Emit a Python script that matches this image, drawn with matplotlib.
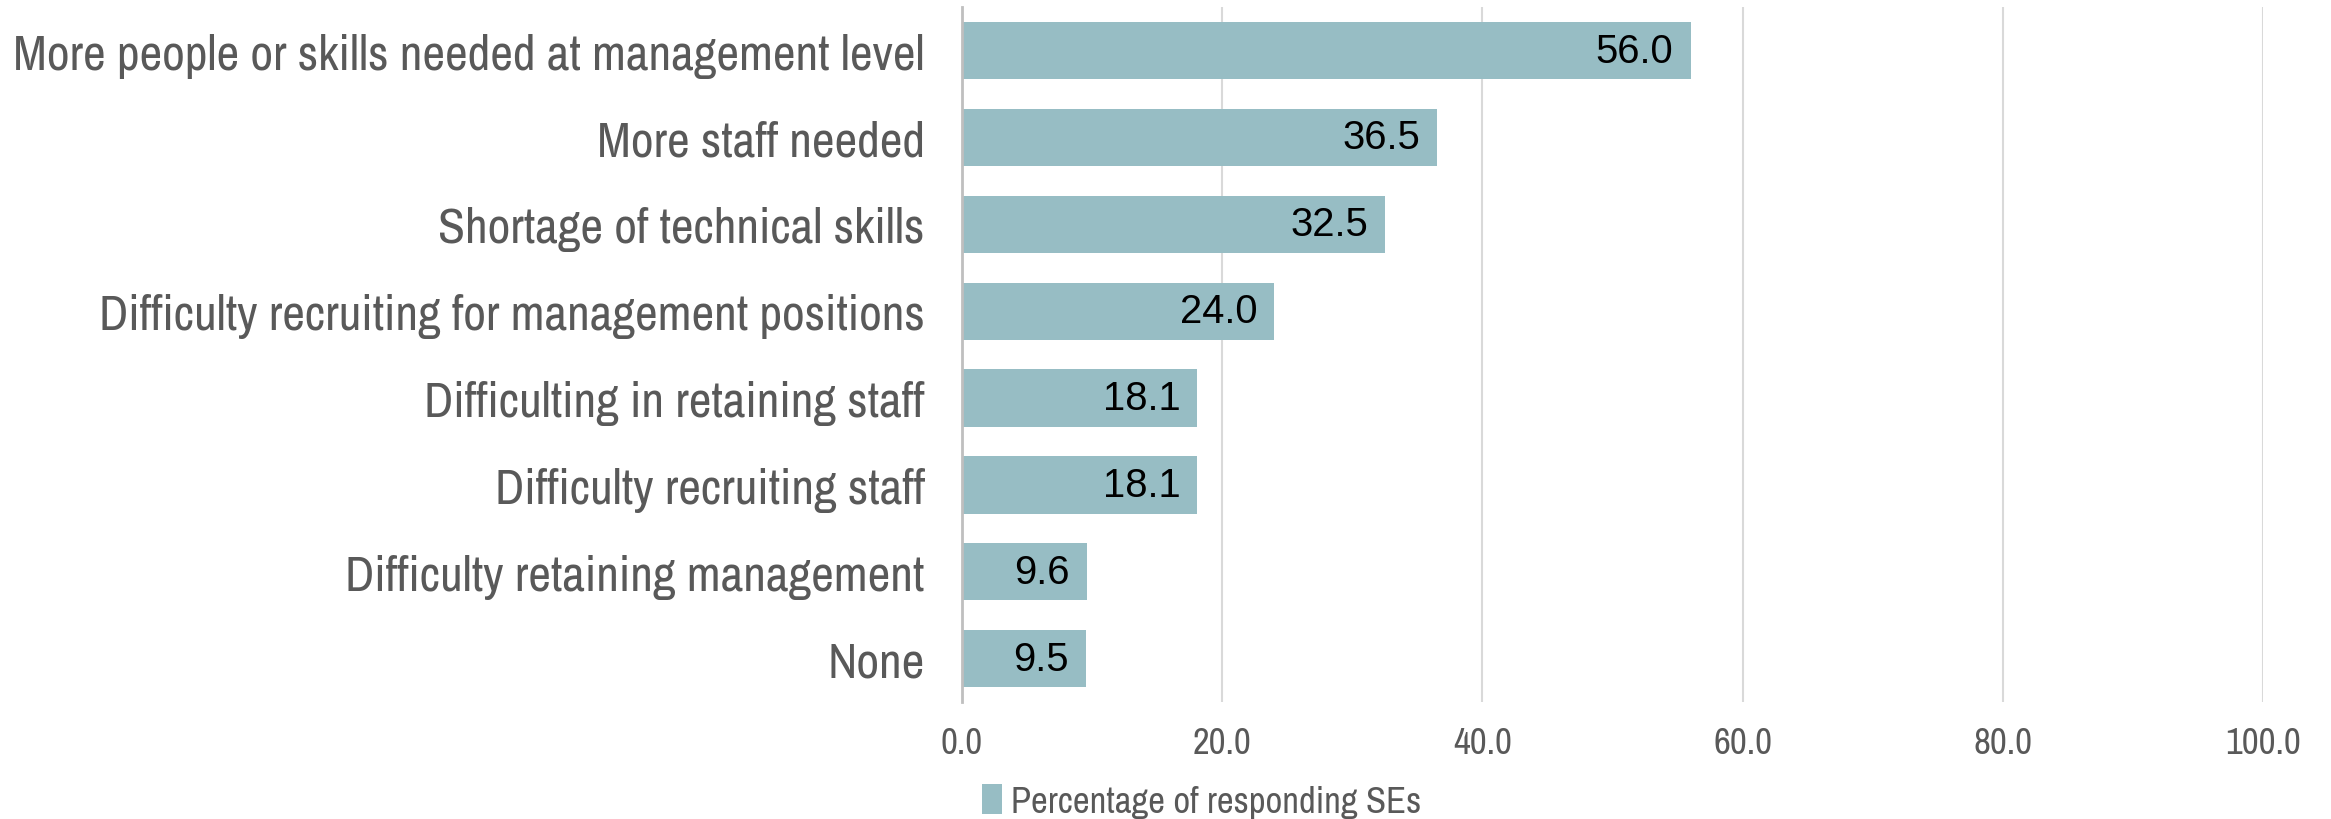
import matplotlib
matplotlib.use("Agg")
import matplotlib.pyplot as plt
from matplotlib.textpath import TextPath
from matplotlib.font_manager import FontProperties

categories = [
    "More people or skills needed at management level",
    "More staff needed",
    "Shortage of technical skills",
    "Difficulty recruiting for management positions",
    "Difficulting in retaining staff",
    "Difficulty recruiting staff",
    "Difficulty retaining management",
    "None",
]
values = [56.0, 36.5, 32.5, 24.0, 18.1, 18.1, 9.6, 9.5]
xticks = [0, 20, 40, 60, 80, 100]
series_name = "Percentage of responding SEs"

fam_narrow = ["Archivo Narrow", "DejaVu Sans"]
fam_label = ["Liberation Sans", "DejaVu Sans"]

DPI = 100


def fit_size(text, family, target_px):
    """font size (pt) so that text renders about target_px wide"""
    w = TextPath((0, 0), text, size=10, prop=FontProperties(family=family)).get_extents().width
    return 10 * target_px / (w * DPI / 72)


ylab_size = fit_size(categories[0], fam_narrow, 905)
tick_size = fit_size("100.0", fam_narrow, 72)
val_size = fit_size("9.6", fam_label, 52)
leg_size = fit_size(series_name, fam_narrow, 405)

bar_color = "#97BDC4"
text_color = "#595959"

fig = plt.figure(figsize=(23.31, 8.2), dpi=DPI)
ax = fig.add_axes([0.4127, 0.1427, 0.9708 - 0.4127, 0.990 - 0.1427])

n = len(categories)
ypos = list(range(n))[::-1]
bars = ax.barh(ypos, values, height=0.66, color=bar_color, zorder=2, label=series_name)

ax.set_xlim(0, 100)
ax.set_ylim(-0.5, n - 0.5)
ax.set_xticks(xticks)
ax.set_xticklabels([f"{t:.1f}" for t in xticks], fontsize=tick_size, color=text_color, family=fam_narrow)
ax.set_yticks(ypos)
ax.set_yticklabels(categories, fontsize=ylab_size, color=text_color, family=fam_narrow)
ax.tick_params(axis="both", length=0)
ax.tick_params(axis="y", pad=27)
ax.tick_params(axis="x", pad=17)

ax.grid(axis="x", color="#D9D9D9", linewidth=1.5, zorder=0)
for s in ["top", "right", "bottom"]:
    ax.spines[s].set_visible(False)
ax.spines["left"].set_color("#BFBFBF")
ax.spines["left"].set_linewidth(2)
ax.spines["left"].set_zorder(3)

for b, v in zip(bars, values):
    ax.text(v - 1.3, b.get_y() + b.get_height() / 2, f"{v:.1f}", ha="right", va="center",
            fontsize=val_size, color="black", family=fam_label, zorder=4)

leg = fig.legend(handles=[bars], labels=[series_name], loc="center left",
                 bbox_to_anchor=(0.407, 0.022), frameon=False, handlelength=0.55,
                 handleheight=0.9, handletextpad=0.25,
                 prop={"family": fam_narrow, "size": leg_size})
for t in leg.get_texts():
    t.set_color(text_color)

fig.savefig("out.png", dpi=DPI)
